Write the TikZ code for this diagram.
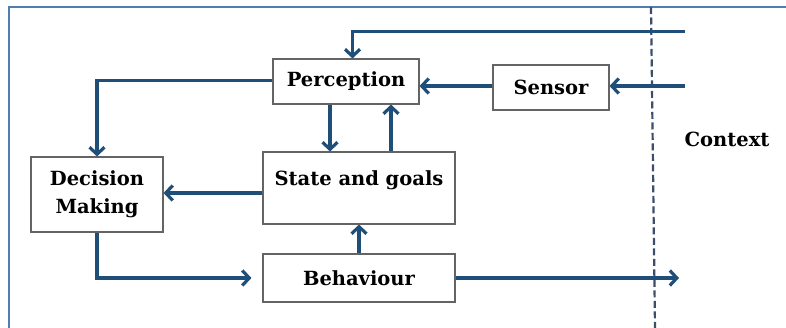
\documentclass[tikz,border=0pt]{standalone}
\usepackage{fontspec}
\setmainfont{DejaVu Serif}
\usetikzlibrary{arrows.meta,calc}
\definecolor{arrblue}{RGB}{31,78,121}
\definecolor{frameblue}{RGB}{79,126,176}
\definecolor{dashgray}{RGB}{60,78,105}
\definecolor{boxgray}{RGB}{100,100,100}
\tikzset{
  box/.style={draw=boxgray, line width=1.1pt, fill=white, inner sep=0pt, align=center, font=\bfseries\fontsize{19.5}{28}\selectfont},
  lbl/.style={inner sep=0pt, align=center, font=\bfseries\fontsize{19.5}{28}\selectfont},
  arr/.style={draw=arrblue, line width=3.2pt, -{Straight Barb[length=7pt,width=15pt,line width=3.2pt]}},
}
\begin{document}
\begin{tikzpicture}[x=1pt,y=-1pt]
\useasboundingbox (0,0) rectangle (786,328);
\fill[white] (0,0) rectangle (786,328);
% frame
\draw[frameblue, line width=1.6pt] (786,7) -- (9,7) -- (9,328);
% context boundary
\draw[dashgray, line width=2.2pt, dash pattern=on 7pt off 3.5pt] (651,7) -- (655,328);
% nodes
\node[box, minimum width=146, minimum height=45] (perc) at (346,81.5) {Perception};
\node[box, minimum width=116, minimum height=45] (sensor) at (551,87.5) {Sensor};
\node[box, minimum width=132, minimum height=75] (dm) at (97,194.5) {Decision\\Making};
\node[box, minimum width=192, minimum height=72] (state) at (359,188) {};
\node[lbl] (statet) at (359,180) {State and goals};
\node[box, minimum width=192, minimum height=48] (beh) at (359,278) {Behaviour};
\node[lbl] (ctx) at (727,139) {Context};
% helper coordinates
\coordinate (inTop) at (685,31.5);
\coordinate (inSens) at (685,86);
\coordinate (outBeh) at (679,278);
\coordinate (xa) at (330,0);
\coordinate (xb) at (391,0);
\coordinate (xc) at (352.5,0);
\coordinate (ya) at (0,80.5);
\coordinate (yb) at (0,193);
% connectors
\draw[arr] (inTop) -| (perc.north -| xc);
\draw[arr] (inSens) -- (sensor.east |- inSens);
\draw[arr] (sensor.west |- inSens) -- (perc.east |- inSens);
\draw[arr] (perc.west |- ya) -| (dm.north);
\draw[arr] (perc.south -| xa) -- (state.north -| xa);
\draw[arr] (state.north -| xb) -- (perc.south -| xb);
\draw[arr] (state.west |- yb) -- (dm.east |- yb);
\draw[arr] (beh.north) -- (state.south);
\draw[arr, shorten >=11pt] (dm.south) |- (beh.west);
\draw[arr] (beh.east) -- (outBeh);
\end{tikzpicture}
\end{document}
